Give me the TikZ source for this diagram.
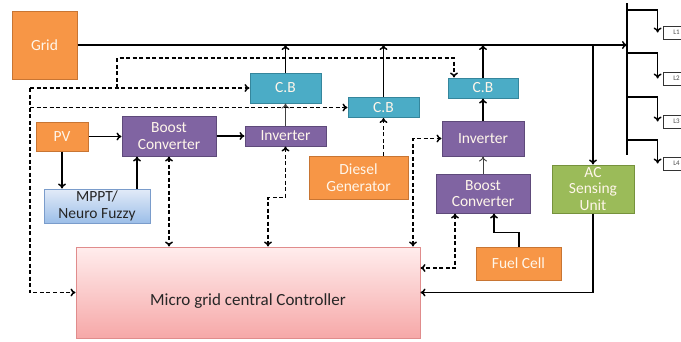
\documentclass[tikz,border=0pt]{standalone}
\usepackage{fontspec}
\setmainfont{Carlito}
\usetikzlibrary{arrows.meta}
\definecolor{org}{HTML}{F79646}
\definecolor{orgd}{HTML}{C87533}
\definecolor{cyn}{HTML}{4BACC6}
\definecolor{cynd}{HTML}{35869C}
\definecolor{prp}{HTML}{8064A2}
\definecolor{prpd}{HTML}{5E4A7A}
\definecolor{grn}{HTML}{9BBB59}
\definecolor{grnd}{HTML}{76923C}
\definecolor{pnkt}{HTML}{FFEDED}
\definecolor{pnkb}{HTML}{F6A8A8}
\definecolor{pnkd}{HTML}{E08C8C}
\definecolor{blut}{HTML}{E2EBF8}
\definecolor{blub}{HTML}{9CBEE8}
\definecolor{blud}{HTML}{7A9CCB}
\definecolor{cream}{HTML}{FFF6EA}
\begin{document}
\begin{tikzpicture}[x=1pt,y=-1pt,
  box/.style={draw, line width=1pt, inner sep=0pt, align=center,
    font=\fontsize{15.5}{16.5}\selectfont, text=cream},
  orgbox/.style={box, fill=org, draw=orgd},
  cynbox/.style={box, fill=cyn, draw=cynd},
  prpbox/.style={box, fill=prp, draw=prpd},
  grnbox/.style={box, fill=grn, draw=grnd},
  loadbox/.style={draw=black!80, line width=0.8pt, fill=white, inner sep=0pt,
    minimum width=27pt, minimum height=13pt, font=\fontsize{7}{8}\selectfont, text=black!70},
  tip/.style={-{To[length=5pt,width=8pt]}},
  wire/.style={line width=1.5pt, tip},
  thinwire/.style={line width=0.9pt, draw=black!75, tip},
  dwire/.style={line width=1.5pt, dash pattern=on 4pt off 2.5pt, tip},
  ddwire/.style={line width=1.5pt, dash pattern=on 4pt off 2.5pt,
    {To[length=5pt,width=8pt]}-{To[length=5pt,width=8pt]}}
]
\clip (0,0) rectangle (681,341);
\fill[white] (0,0) rectangle (681,341);

% nodes
\node[orgbox, minimum width=65pt, minimum height=68pt] (grid) at (44.5,45) {Grid};
\node[cynbox, minimum width=71pt, minimum height=30pt] (cb1) at (285.5,88) {C.B};
\node[cynbox, minimum width=71pt, minimum height=20pt] (cb2) at (383.5,107.5) {C.B};
\node[cynbox, minimum width=70pt, minimum height=20pt] (cb3) at (483,88) {C.B};
\node[orgbox, minimum width=52pt, minimum height=29pt] (pv) at (62,136.5) {PV};
\node[prpbox, minimum width=94pt, minimum height=40pt] (boost1) at (169,136) {Boost\\Converter};
\node[prpbox, minimum width=81pt, minimum height=20pt] (inv1) at (285.5,136) {Inverter};
\node[box, top color=blut, bottom color=blub, draw=blud, text=black!85,
  minimum width=106pt, minimum height=34pt] (mppt) at (97,206) {MPPT/\\Neuro Fuzzy};
\node[orgbox, minimum width=99pt, minimum height=43pt] (diesel) at (358.5,177.5) {Diesel\\Generator};
\node[prpbox, minimum width=82pt, minimum height=35pt] (inv2) at (483,138.5) {Inverter};
\node[prpbox, minimum width=94pt, minimum height=39pt] (boost2) at (483,193.5) {Boost\\Converter};
\node[orgbox, minimum width=85pt, minimum height=33pt] (fuel) at (518.5,263.5) {Fuel Cell};
\node[grnbox, minimum width=82pt, minimum height=48pt] (ac) at (593,189) {AC\\Sensing\\Unit};
\node[box, top color=pnkt, bottom color=pnkb, draw=pnkd,
  minimum width=344pt, minimum height=91pt] (ctrl) at (248,292.5) {};
\node[font=\fontsize{17}{18}\selectfont, text=black!85, inner sep=0pt]
  (ctrltext) at ([yshift=-9pt]ctrl.center) {Micro grid central Controller};
\node[loadbox] (l1) at (676.5,32.5) {L1};
\node[loadbox] (l2) at (676.5,78.5) {L2};
\node[loadbox] (l3) at (676.5,121.5) {L3};
\node[loadbox] (l4) at (676.5,163.5) {L4};

% bus and grid line
\coordinate (busin) at (627,45);
\coordinate (bustop) at (627,3);
\coordinate (busbot) at (627,155);
\draw[line width=1.5pt] (bustop) -- (busbot);
\draw[wire] (grid.east |- busin) -- (busin);
\foreach \y/\l in {10/l1,53/l2,97/l3,140/l4}{
  \coordinate (br\l) at (627,\y);
  \draw[wire] (br\l) -| ([xshift=-5pt]\l.west);
}

% circuit breakers to line
\draw[wire] (cb1.north) -- (cb1.north |- busin);
\draw[wire] (cb2.north) -- (cb2.north |- busin);
\draw[wire] (cb3.north) -- (cb3.north |- busin);
\draw[wire] (ac.north |- busin) -- (ac.north);

% PV chain
\draw[wire] (pv.east) -- (boost1.west |- pv.east);
\draw[wire] (boost1.east) -- (inv1.west);
\draw[thinwire] (inv1.north) -- (cb1.south);
\draw[wire] (pv.south) -- (pv.south |- mppt.north);
\draw[wire] ([xshift=40pt]mppt.north) -- ([xshift=-32pt]boost1.south);

% diesel
\draw[dwire] (cb2.south |- diesel.north) -- (cb2.south);

% fuel cell chain
\draw[wire] (inv2.north) -- (cb3.south);
\draw[thinwire] (boost2.north) -- (inv2.south);
\draw[wire] ([xshift=0.5pt]fuel.north) -- ++(0,-14) -| ([xshift=11pt]boost2.south);

% AC sensing to controller
\draw[wire] (ac.south) |- (ctrl.east);

% control dashed lines
\coordinate (lft) at (30,88);
\coordinate (mid) at (117,88);
\draw[dwire] (lft) -- (cb1.west);
\draw[dwire] (lft) |- (ctrl.west);
\draw[dwire] (lft |- cb2.west) -- (cb2.west);
\draw[dwire] (mid) -- ++(0,-30) -| ([xshift=-29pt]cb3.north);
\draw[ddwire] (boost1.south) -- (boost1.south |- ctrl.north);
\draw[ddwire] (inv1.south) -- ++(0,51) -| ([xshift=20pt]ctrl.north);
\draw[ddwire] ([xshift=165pt]ctrl.north) |- (inv2.west);
\draw[ddwire] ([xshift=-28pt]boost2.south) |- ([yshift=24.5pt]ctrl.east);
\end{tikzpicture}
\end{document}
